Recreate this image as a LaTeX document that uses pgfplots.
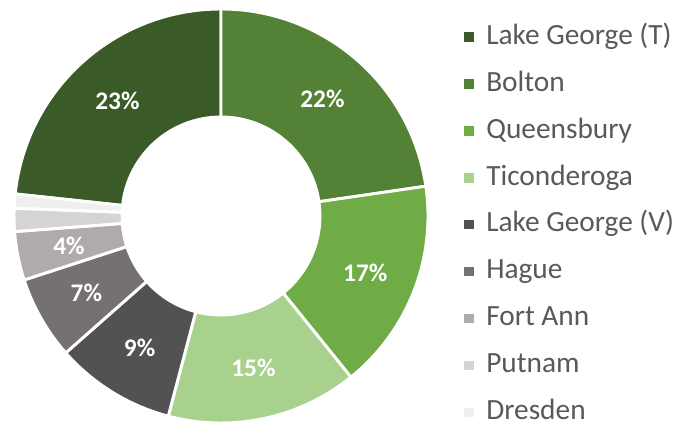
\documentclass[border=0pt]{standalone}
\usepackage{fontspec}
\setmainfont{Carlito}
\usepackage{pgfplots}
\usepackage{pgfplotstable}
\pgfplotsset{compat=1.18}

\definecolor{cA}{HTML}{3A5A27}
\definecolor{cB}{HTML}{538135}
\definecolor{cC}{HTML}{6FAC46}
\definecolor{cD}{HTML}{A9D18E}
\definecolor{cE}{HTML}{525252}
\definecolor{cF}{HTML}{767171}
\definecolor{cG}{HTML}{AFABAB}
\definecolor{cH}{HTML}{D5D3D3}
\definecolor{cI}{HTML}{EFEFEF}
\definecolor{textgray}{HTML}{595959}

\pgfplotstableread[col sep=comma]{
name,value,color,pct
Lake George (T),23.3,cA,23
Bolton,22.7,cB,22
Queensbury,16.5,cC,17
Ticonderoga,14.9,cD,15
Lake George (V),9.4,cE,9
Hague,6.5,cF,7
Fort Ann,3.8,cG,4
Putnam,1.8,cH,0
Dresden,1.1,cI,0
}\donutdata

\begin{document}
\begin{tikzpicture}
% build the slices from the table
\pgfplotstablegetrowsof{\donutdata}
\pgfmathtruncatemacro\lastrow{\pgfplotsretval-1}
\pgfplotstablegetelem{0}{value}\of\donutdata
\pgfmathsetmacro\startangle{90+3.6*\pgfplotsretval}
\gdef\slices{}
\gdef\labels{}
\gdef\legendbits{}
\xdef\cum{0}
\foreach \i in {0,...,\lastrow}{
  \pgfplotstablegetelem{\i}{value}\of\donutdata \let\val\pgfplotsretval
  \pgfplotstablegetelem{\i}{color}\of\donutdata \let\col\pgfplotsretval
  \pgfplotstablegetelem{\i}{pct}\of\donutdata \let\pc\pgfplotsretval
  \pgfplotstablegetelem{\i}{name}\of\donutdata \let\nm\pgfplotsretval
  \pgfmathsetmacro\ta{\startangle-3.6*\cum}
  \pgfmathsetmacro\tb{\startangle-3.6*(\cum+\val)}
  \pgfmathsetmacro\tm{(\ta+\tb)/2}
  \xdef\slices{\unexpanded\expandafter{\slices}
    \noexpand\filldraw[fill=\col, draw=white, line width=2.2pt]
      ([shift={(\ta:155.25pt)}]axis cs:221,209)
      arc[start angle=\ta, end angle=\tb, radius=155.25pt]
      -- ([shift={(\tb:74.25pt)}]axis cs:221,209)
      arc[start angle=\tb, end angle=\ta, radius=74.25pt] -- cycle;}
  \ifnum\pc>0
    \xdef\labels{\unexpanded\expandafter{\labels}
      \noexpand\node[text=white, font=\noexpand\bfseries\noexpand\fontsize{19}{19}\noexpand\selectfont]
        at ([shift={(\tm:116.25pt)}]axis cs:221,209) {\pc\noexpand\%};}
  \fi
  \xdef\legendbits{\unexpanded\expandafter{\legendbits}
    \noexpand\addlegendimage{fill=\col, draw=none}
    \noexpand\addlegendentry{\unexpanded\expandafter{\nm}}}
  \pgfmathsetmacro\newcum{\cum+\val}
  \xdef\cum{\newcum}
}
\begin{axis}[
  width=513.75pt, height=318.75pt, scale only axis,
  xmin=0, xmax=685, ymin=0, ymax=425,
  hide axis, clip=false,
  legend cell align=left,
  legend image code/.code={\fill[#1] (0pt,-3.1pt) rectangle (7pt,3.9pt);},
  legend style={at={(axis cs:464,401)}, anchor=north west, draw=none, fill=none,
    font=\fontsize{22}{26}\selectfont, text=textgray, row sep=15.2pt,
    inner sep=0pt,
    nodes={inner sep=0pt, text height=15pt, text depth=5pt},
    /tikz/every odd column/.append style={column sep=9.5pt}},
]
\legendbits
\slices
\labels
\path (rel axis cs:0,0) rectangle (rel axis cs:1,1);
\end{axis}
\end{tikzpicture}
\end{document}
